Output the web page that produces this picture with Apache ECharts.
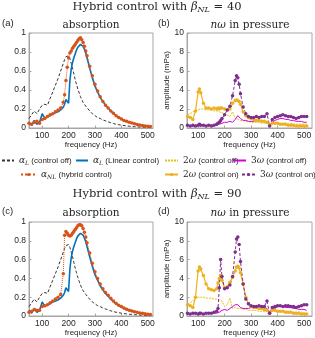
<!DOCTYPE html>
<html><head><meta charset="utf-8">
<script src="https://cdn.jsdelivr.net/npm/echarts@6/dist/echarts.min.js"></script>
<style>html,body{margin:0;padding:0;background:#fff}#c{width:315px;height:338px}</style>
</head><body><div id="c"></div>
<script>
// ---------- data ----------
const fAbs = [50,60,70,80,90,100,110,120,130,140,150,160,170,180,185,190,195,200,205,210,215,220,225,230,235,240,245,250,255,260,265,270,280,290,300,310,320,330,340,350,360,370,380,390,400,410,420,430,440,450,460,470,480,490,500,510];
const alphaOff = [0.10,0.14,0.18,0.15,0.20,0.24,0.25,0.24,0.31,0.38,
  0.45,0.52,0.60,0.68,0.72,0.75,0.77,0.76,0.73,0.68,
  0.63,0.57,0.51,0.46,0.41,0.37,0.33,0.30,0.27,0.25,
  0.23,0.21,0.18,0.15,0.13,0.11,0.10,0.085,0.075,0.065,
  0.055,0.047,0.04,0.035,0.03,0.026,0.022,0.019,0.016,0.014,
  0.012,0.01,0.009,0.008,0.007,0.006];
const alphaLin = [0.06,0.03,0.08,0.04,0.06,0.15,0.10,0.12,0.13,0.15,
  0.16,0.17,0.19,0.22,0.25,0.30,0.31,0.26,0.50,0.62,
  0.69,0.74,0.78,0.82,0.85,0.87,0.88,0.875,0.86,0.83,
  0.79,0.74,0.63,0.53,0.44,0.38,0.32,0.28,0.24,0.21,
  0.18,0.155,0.13,0.11,0.095,0.08,0.07,0.06,0.052,0.045,
  0.038,0.032,0.027,0.022,0.018,0.015];
const alphaNL40 = [0.05,0.04,0.06,0.07,0.05,0.09,0.10,0.12,0.14,0.15,
  0.17,0.19,0.21,0.27,0.35,0.50,0.64,0.74,0.79,0.81,
  0.84,0.86,0.88,0.90,0.92,0.94,0.95,0.93,0.90,0.86,
  0.81,0.76,0.65,0.55,0.46,0.39,0.33,0.28,0.24,0.21,
  0.18,0.155,0.13,0.11,0.095,0.08,0.07,0.06,0.052,0.045,
  0.038,0.032,0.027,0.022,0.018,0.015];
const alphaNL90 = [0.04,0.05,0.07,0.06,0.06,0.10,0.11,0.12,0.14,0.16,
  0.18,0.20,0.23,0.45,0.86,0.90,0.88,0.86,0.85,0.86,
  0.88,0.90,0.92,0.94,0.96,0.97,0.97,0.96,0.93,0.89,
  0.84,0.78,0.67,0.56,0.47,0.40,0.34,0.29,0.25,0.22,
  0.19,0.16,0.135,0.115,0.10,0.085,0.072,0.062,0.053,0.046,
  0.039,0.033,0.028,0.023,0.019,0.016];

const fP = [60,70,80,90,100,105,110,120,130,140,150,160,170,175,180,185,190,200,210,220,230,240,245,250,255,260,270,280,290,300,310,320,330,340,350,360,370,380,390,400,410,420,430,440,450,460,470,480,490,500,510];
const w2Off40 = [1.4,1.5,1.7,1.8,1.9,1.9,2.0,2.0,1.9,1.9,
  1.9,1.8,1.8,1.8,1.7,1.7,1.6,1.5,1.4,1.2,
  1.7,1.0,0.9,0.9,0.9,0.8,0.8,0.7,0.7,0.6,
  0.6,0.6,0.6,0.5,0.5,0.5,0.4,0.5,0.5,0.5,
  0.5,0.5,0.5,0.5,0.5,0.4,0.4,0.4,0.4,0.4,0.4];
const w3Off40 = [0.3,0.2,0.2,0.3,0.3,0.3,0.3,0.3,0.2,0.3,
  0.3,0.3,0.3,0.3,0.4,0.4,0.5,0.6,0.6,0.7,
  0.6,0.9,1.1,1.3,1.2,1.0,0.8,0.8,0.7,0.7,
  0.7,0.8,0.7,0.8,0.7,0.6,0.3,0.6,0.8,0.9,
  1.0,1.0,0.9,0.9,0.8,0.8,0.7,0.7,0.7,0.6,0.6];
const w2On40 = [1.2,1.1,0.9,1.8,3.8,4.1,3.7,2.6,2.1,2.1,
  2.0,2.1,2.0,2.1,2.0,2.1,2.1,2.0,1.9,2.0,
  2.6,2.9,2.95,2.9,2.8,2.5,1.7,1.3,1.1,1.0,
  0.9,0.8,0.8,0.7,0.7,0.6,0.3,0.5,0.5,0.5,
  0.4,0.4,0.4,0.3,0.3,0.3,0.2,0.2,0.2,0.2,0.2];
const w3On40 = [0.3,0.2,0.3,0.2,0.3,0.4,0.3,0.3,0.2,0.3,
  0.2,0.3,0.4,0.5,0.6,0.8,1.0,1.4,1.9,2.3,
  3.4,5.0,5.5,5.3,4.6,3.6,2.2,1.5,1.2,1.1,
  1.1,1.2,1.1,1.2,1.2,1.5,0.2,0.9,1.1,1.2,
  1.3,1.4,1.3,1.2,1.2,1.1,1.0,1.1,1.2,1.2,1.2];
const w2Off90 = [1.3,1.4,1.6,1.9,2.0,2.0,2.0,2.0,1.9,1.9,
  1.9,1.8,1.8,1.7,1.7,1.5,1.6,1.0,1.2,1.9,
  0.8,0.9,0.8,0.8,0.8,0.8,0.7,0.7,0.6,0.6,
  0.6,0.6,0.5,0.5,0.5,0.5,0.3,0.5,0.5,0.5,
  0.5,0.5,0.5,0.5,0.4,0.4,0.4,0.4,0.4,0.3,0.3];
const w3Off90 = [0.2,0.2,0.3,0.2,0.3,0.3,0.3,0.2,0.3,0.3,
  0.3,0.3,0.3,0.4,0.4,0.5,0.6,0.7,0.6,0.8,
  1.0,1.2,1.3,1.2,1.1,0.9,0.8,0.8,0.8,0.9,
  0.9,1.0,1.0,0.9,0.9,0.8,0.4,0.7,0.8,1.0,
  1.0,1.0,0.9,0.9,0.9,0.8,0.8,0.7,0.7,0.7,0.6];
const w2On90 = [1.2,1.1,0.9,2.0,4.8,5.2,5.0,4.3,3.4,2.9,
  2.8,2.7,2.9,3.5,4.0,4.3,3.8,3.0,3.1,3.6,
  4.1,4.8,5.2,5.3,5.1,4.6,3.4,2.0,1.3,1.0,
  0.9,0.9,0.8,0.8,0.7,0.6,0.3,0.6,0.6,0.5,
  0.5,0.5,0.4,0.4,0.4,0.3,0.3,0.3,0.2,0.2,0.2];
const w3On90 = [0.3,0.2,0.3,0.3,0.2,0.3,0.3,0.2,0.3,0.3,
  0.3,0.4,0.5,0.8,3.0,6.0,4.2,2.9,3.0,3.3,
  4.2,6.8,8.2,8.4,7.6,5.8,3.4,1.8,1.3,1.1,
  1.0,1.0,1.1,1.0,1.0,1.6,0.3,0.9,1.0,1.1,
  1.1,1.0,1.1,1.1,1.0,1.0,0.9,1.0,1.1,1.2,1.2];

const freqTicks = [100,200,300,400,500];
const betaValues = [40, 90];

// ---------- styling ----------
const SANS = 'Liberation Sans, Arial, sans-serif';
const SERIF = 'DejaVu Serif, serif';
const AX = '#a6a6a6';
const TXT = '#262626';
const C = {off:'#333333', lin:'#0072BD', nl:'#D95319', w2off:'#E3C21B', w3off:'#D400D4', w2on:'#EDB120', w3on:'#7E2F8E'};

const grids = [
  {left:29, top:33, width:124, height:95},
  {left:187, top:33, width:125, height:95},
  {left:29, top:222, width:124, height:94},
  {left:187, top:222, width:125, height:94}
].map(g => Object.assign({show:true, borderColor:AX, borderWidth:1, backgroundColor:'#fff'}, g));

function xAx(gi, min, max){
  return {type:'value', gridIndex:gi, min:min, max:max,
    name:'frequency (Hz)', nameLocation:'middle', nameGap:12,
    nameTextStyle:{fontSize:8, color:TXT, fontFamily:SANS},
    axisLine:{show:true, lineStyle:{color:AX}},
    axisTick:{show:true, inside:true, length:2.5, customValues:freqTicks, lineStyle:{color:AX}},
    axisLabel:{customValues:freqTicks, fontSize:8.5, color:TXT, margin:3, fontFamily:SANS},
    splitLine:{show:false}};
}
function yAx(gi, max, interval, name){
  const o = {type:'value', gridIndex:gi, min:0, max:max, interval:interval,
    axisLine:{show:true, lineStyle:{color:AX}},
    axisTick:{show:true, inside:true, length:2.5, lineStyle:{color:AX}},
    axisLabel:{fontSize:8.5, color:TXT, margin:3, fontFamily:SANS},
    splitLine:{show:false}};
  if (name){ o.name = name; o.nameLocation='middle'; o.nameGap=11; o.nameTextStyle={fontSize:8, color:TXT, fontFamily:SANS}; }
  return o;
}
function pts(xs, ys){ return xs.map((x,i)=>[x, ys[i]]); }

function absSeries(gi, nl){
  return [
    {name:'aLoff', type:'line', xAxisIndex:gi, yAxisIndex:gi, data:pts(fAbs, alphaOff), symbol:'none',
      lineStyle:{color:C.off, width:1, type:[3,2]}, itemStyle:{color:C.off}},
    {name:'aLlin', type:'line', xAxisIndex:gi, yAxisIndex:gi, data:pts(fAbs, alphaLin), symbol:'none',
      lineStyle:{color:C.lin, width:1.6}, itemStyle:{color:C.lin}},
    {name:'aNL', type:'line', xAxisIndex:gi, yAxisIndex:gi, data:pts(fAbs, nl), symbol:'circle', symbolSize:3.5, showSymbol:true,
      lineStyle:{color:C.nl, width:1, type:'dotted'}, itemStyle:{color:C.nl}}
  ];
}
function presSeries(gi, w2off, w3off, w2on, w3on){
  return [
    {name:'w2off', type:'line', xAxisIndex:gi, yAxisIndex:gi, data:pts(fP, w2off), symbol:'none',
      lineStyle:{color:C.w2off, width:1, type:[2,1]}, itemStyle:{color:C.w2off}},
    {name:'w3off', type:'line', xAxisIndex:gi, yAxisIndex:gi, data:pts(fP, w3off), symbol:'none',
      lineStyle:{color:C.w3off, width:1}, itemStyle:{color:C.w3off}},
    {name:'w2on', type:'line', xAxisIndex:gi, yAxisIndex:gi, data:pts(fP, w2on), symbol:'circle', symbolSize:3.5, showSymbol:true,
      lineStyle:{color:C.w2on, width:1.2}, itemStyle:{color:C.w2on}},
    {name:'w3on', type:'line', xAxisIndex:gi, yAxisIndex:gi, data:pts(fP, w3on), symbol:'circle', symbolSize:3.5, showSymbol:true,
      lineStyle:{color:C.w3on, width:1, type:[3,2]}, itemStyle:{color:C.w3on}}
  ];
}

const legendText = {
  aLoff:'{m|α}{s|L}{t| (control off)}',
  aLlin:'{m|α}{s|L}{t| (Linear control)}',
  aNL:'{m|α}{s|NL}{t| (hybrid control)}',
  w2off:'{r|2}{m|ω}{t| (control off)}',
  w3off:'{r|3}{m|ω}{t| (control off)}',
  w2on:'{r|2}{m|ω}{t| (control on)}',
  w3on:'{r|3}{m|ω}{t| (control on)}'
};
const rich = {
  m:{fontFamily:SERIF, fontStyle:'italic', fontSize:9, color:TXT, lineHeight:11, verticalAlign:'middle'},
  r:{fontFamily:SERIF, fontSize:9, color:TXT, lineHeight:11, verticalAlign:'middle'},
  s:{fontFamily:SERIF, fontStyle:'italic', fontSize:6, color:TXT, lineHeight:11, verticalAlign:'bottom'},
  t:{fontFamily:SANS, fontSize:8, color:TXT, lineHeight:11, verticalAlign:'middle'}
};
function leg(name, left, top, w, marker){
  const o = {data:[name], left:left, top:top, itemWidth:w, itemHeight:marker ? 4 : 6, padding:0, itemGap:0,
    formatter: n => legendText[n], textStyle:{rich:rich, fontSize:8, color:TXT}};
  if (!marker) o.itemStyle = {opacity:0};
  return o;
}
const legends = [
  leg('aLoff', 1, 156, 12, false), leg('aLlin', 75, 156, 12, false), leg('w2off', 164, 156, 13, false), leg('w3off', 232, 156, 13, false),
  leg('aNL', 20, 170, 15, true), leg('w2on', 164, 170, 13, true), leg('w3on', 241, 170, 13, true)
];

function txt(x, y, t, align, font, size, richObj){
  return {type:'text', x:x, y:y, silent:true, style:{text:t, align:align||'left', verticalAlign:'middle',
    fontFamily:font, fontSize:size, fill:TXT, rich:richObj}};
}
function titleRich(sz){
  return {
    n:{fontFamily:SERIF, fontSize:sz, color:TXT},
    i:{fontFamily:SERIF, fontStyle:'italic', fontSize:sz, color:TXT},
    s:{fontFamily:SERIF, fontStyle:'italic', fontSize:sz*0.7, color:TXT, padding:[5,0,0,0]}
  };
}
const graphics = [];
[[7, 23, 25], [194, 211, 213]].forEach((rowY, k) => {
  graphics.push(txt(157, rowY[0], '{n|Hybrid control with }{i|β}{s|NL}{n| = ' + betaValues[k] + '}', 'center', SERIF, 11.5, titleRich(11.5)));
  graphics.push(txt(2, rowY[1], k===0 ? '(a)' : '(c)', 'left', SANS, 9.5));
  graphics.push(txt(91, rowY[2], '{n|absorption}', 'center', SERIF, 10.5, titleRich(10.5)));
  graphics.push(txt(158, rowY[1], k===0 ? '(b)' : '(d)', 'left', SANS, 9.5));
  graphics.push(txt(250, rowY[2], '{i|nω}{n| in pressure}', 'center', SERIF, 10.5, titleRich(10.5)));
});

const option = {
  animation:false,
  backgroundColor:'#fff',
  grid:grids,
  xAxis:[xAx(0,50,520), xAx(1,58,530), xAx(2,50,520), xAx(3,58,530)],
  yAxis:[yAx(0,1,0.2), yAx(1,10,2,'amplitude (mPa)'), yAx(2,1,0.2), yAx(3,10,2,'amplitude (mPa)')],
  legend:legends,
  series:[].concat(
    absSeries(0, alphaNL40), presSeries(1, w2Off40, w3Off40, w2On40, w3On40),
    absSeries(2, alphaNL90), presSeries(3, w2Off90, w3Off90, w2On90, w3On90)
  ),
  graphic:graphics
};
const chart = echarts.init(document.getElementById('c'));
chart.setOption(option);
</script>
</body></html>
